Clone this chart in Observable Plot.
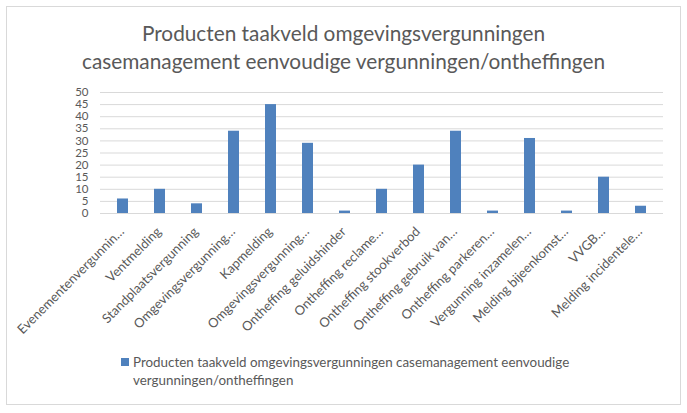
<!DOCTYPE html>
<html>
<head>
<meta charset="utf-8">
<script src="https://cdn.jsdelivr.net/npm/d3@7"></script>
<script src="https://cdn.jsdelivr.net/npm/@observablehq/plot@0.6"></script>
<style>
  html, body { margin: 0; padding: 0; background: #fff; }
  #frame { position: relative; width: 687px; height: 413px; overflow: hidden; font-family: Lato, "Open Sans", sans-serif; color: #595959; }
  #border { position: absolute; left: 6px; top: 6px; width: 675px; height: 399px; border: 1px solid #D9D9D9; box-sizing: border-box; }
  #title { position: absolute; left: 0; top: 19px; width: 687px; text-align: center; font-size: 20.8px; line-height: 28px; }
  #chart { position: absolute; left: 0; top: 80px; }
  #legend { position: absolute; left: 121px; top: 353px; font-size: 13.4px; line-height: 18px; display: flex; align-items: flex-start; }
  #legend .sw { width: 8px; height: 8px; background: #4F81BD; margin-top: 5px; margin-right: 4px; flex: none; }
</style>
</head>
<body>
<div id="frame">
  <div id="border"></div>
  <div id="title">Producten taakveld omgevingsvergunningen<br>casemanagement eenvoudige vergunningen/ontheffingen</div>
  <div id="chart"></div>
  <div id="legend"><div class="sw"></div><div>Producten taakveld omgevingsvergunningen casemanagement eenvoudige<br>vergunningen/ontheffingen</div></div>
</div>
<script>
const categories = [
  "Evenementenvergunnin…",
  "Ventmelding",
  "Standplaatsvergunning",
  "Omgevingsvergunning…",
  "Kapmelding",
  "Omgevingsvergunning…",
  "Ontheffing geluidshinder",
  "Ontheffing reclame…",
  "Ontheffing stookverbod",
  "Ontheffing gebruik van…",
  "Ontheffing parkeren…",
  "Vergunning inzamelen…",
  "Melding bijeenkomst…",
  "VVGB…",
  "Melding incidentele…"
];
const values = [6, 10, 4, 34, 45, 29, 1, 10, 20, 34, 1, 31, 1, 15, 3];
const yTicks = [0, 5, 10, 15, 20, 25, 30, 35, 40, 45, 50];

const data = categories.map((c, i) => ({i, label: c, value: values[i]}));

const chart = Plot.plot({
  width: 687,
  height: 270,
  marginTop: 12,
  marginBottom: 137,
  marginLeft: 100,
  marginRight: 24,
  style: {fontFamily: "Lato, 'Open Sans', sans-serif", color: "#595959", background: "transparent", overflow: "visible"},
  x: {type: "band", domain: data.map(d => d.i), paddingInner: 0.7, paddingOuter: 0.35},
  y: {domain: [0, 50]},
  marks: [
    Plot.gridY(yTicks, {stroke: "#D9D9D9", strokeOpacity: 1, strokeWidth: 1}),
    Plot.barY(data, {x: "i", y: "value", fill: "#4F81BD"}),
    Plot.axisY(yTicks, {tickSize: 0, tickPadding: 12, fontSize: 11.5, label: null, fill: "#595959"}),
    Plot.axisX({tickSize: 0, tickRotate: -45, tickPadding: 6, dy: 10, dx: -1, fontSize: 13, label: null, fill: "#595959",
      tickFormat: i => categories[i]})
  ]
});
document.getElementById("chart").appendChild(chart);
</script>
</body>
</html>
